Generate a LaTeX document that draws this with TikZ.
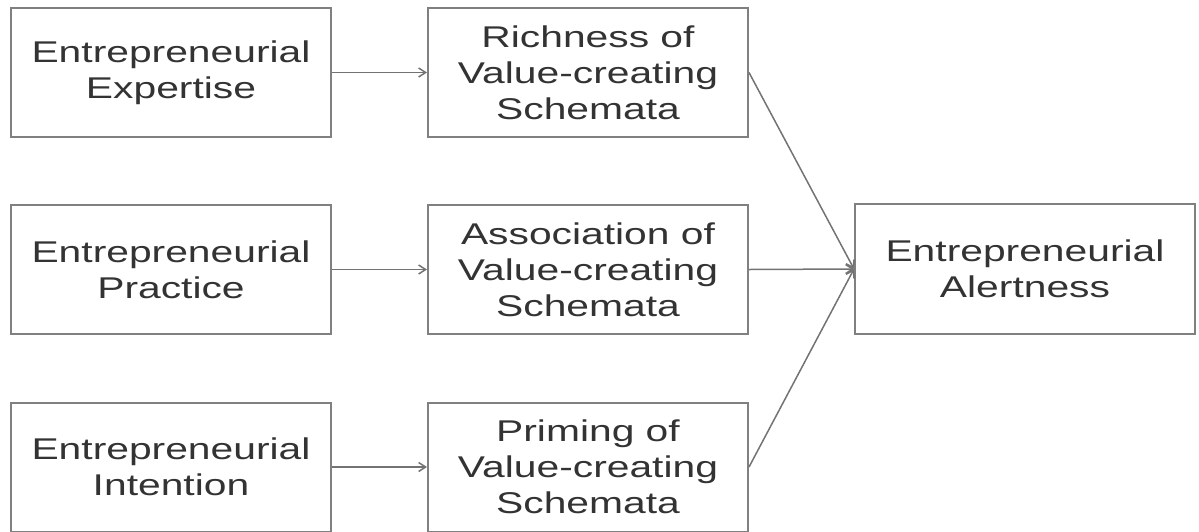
\documentclass[tikz,border=0pt]{standalone}
\usepackage{fontspec}
\setmainfont[FakeStretch=1.36]{Liberation Sans}
\usetikzlibrary{arrows.meta}

\begin{document}
\begin{tikzpicture}[x=1pt, y=-1pt,
                    every node/.style={rectangle, draw=black!50, line width=2pt,
                                       minimum width=320pt, minimum height=129pt,
                                       align=center, text=black!80,
                                       font=\fontsize{30}{36}\selectfont},
                    conn/.style={draw=black!55, line width=1.5pt,
                                 -{Straight Barb[length=7pt,width=9pt]}}]
                      \useasboundingbox (0,0) rectangle (1199,531);

                      % left column
                      \node (E1) at (171,72.5) {Entrepreneurial\\Expertise};
                      \node (E2) at (171,269.5) {Entrepreneurial\\Practice};
                      \node (E3) at (171,467) {Entrepreneurial\\Intention};

                      % middle column
                      \node (R) at (588,72.5) {Richness of\\Value-creating\\Schemata};
                      \node (S) at (588,269.5) {Association of\\Value-creating\\Schemata};
                      \node (P) at (588,467) {Priming of\\Value-creating\\Schemata};

                      % outcome
                      \node[minimum width=340pt, minimum height=130pt] (A) at (1025,269) {Entrepreneurial\\Alertness};

                      \foreach \i/\j in {E1/R, E2/S, E3/P} {
                              \draw[conn] (\i) -- (\j);
                          }

                      \foreach \i in {R, S, P} {
                              \draw[conn] (\i.east) -- (A.west);
                          }
                  \end{tikzpicture}
\end{document}
